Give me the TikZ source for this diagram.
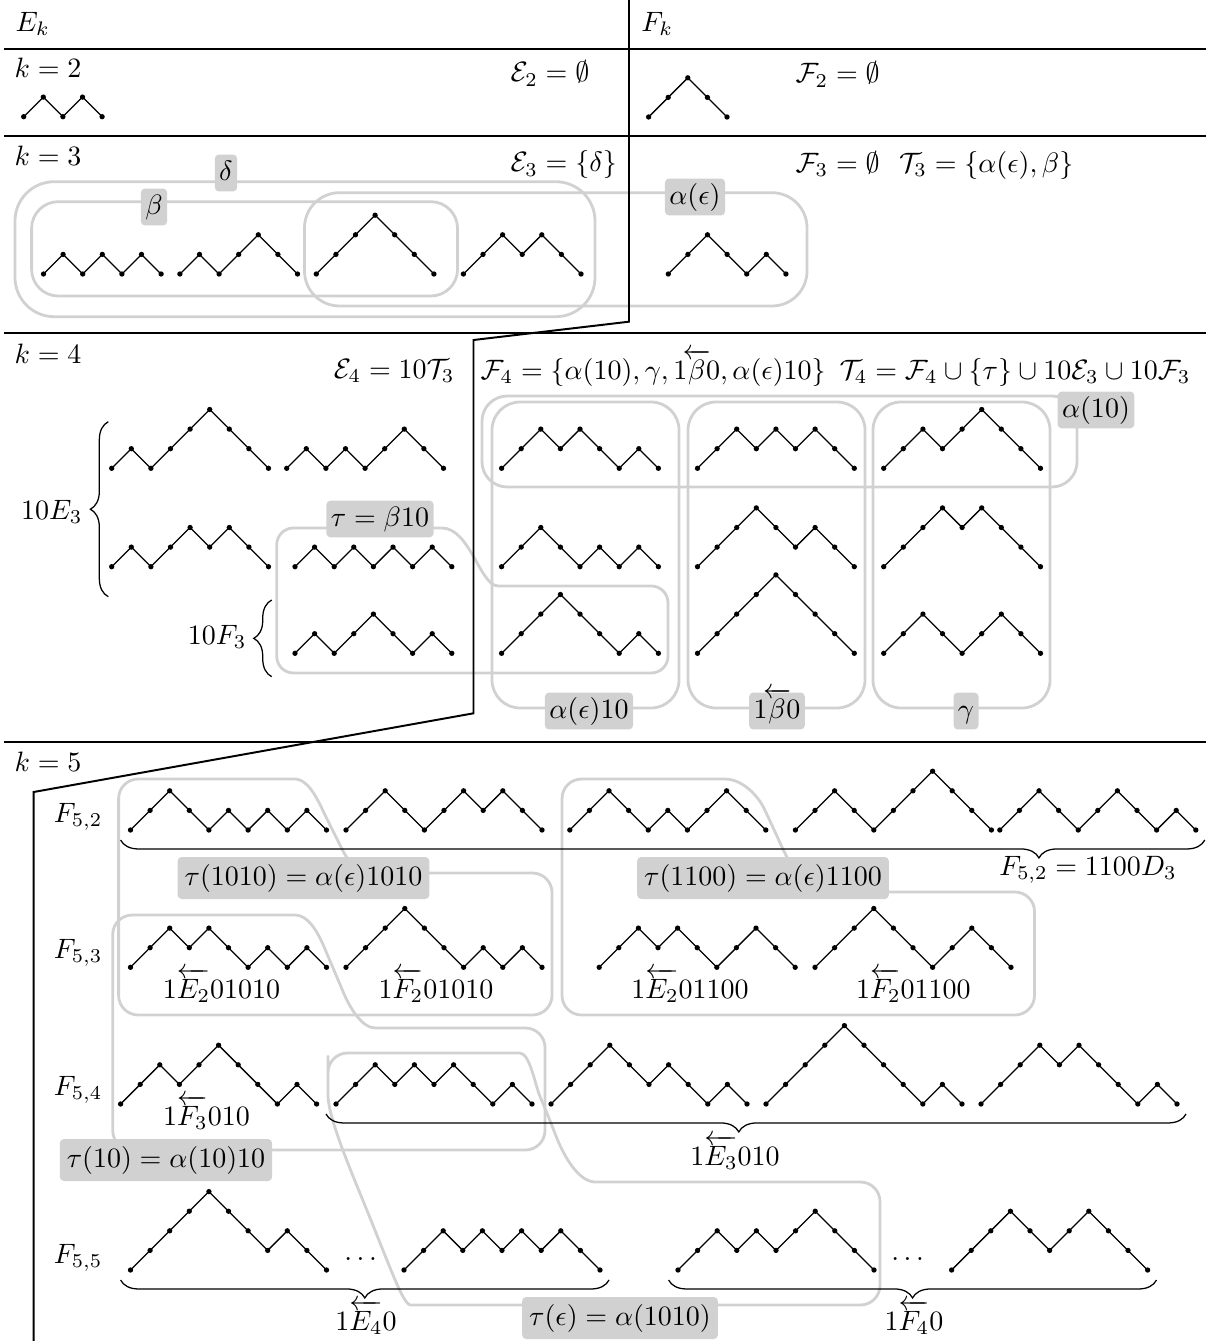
\documentclass[tikz,border=0pt]{standalone}
\usepackage{amsmath}
\usetikzlibrary{decorations.pathreplacing}

\newcommand{\dyckstep}{19.6}
\newcommand{\dyckdot}{0.95pt}
% a Dyck path from its left end, 1 = up, 0 = down
\newcommand{\dyck}[3]{%
	\draw[dyckline] (#1,#2) \foreach \s in {#3} {-- ++(\dyckstep,{\dyckstep*(1-2*\s)})};
	\fill (#1,#2) circle[radius=\dyckdot] \foreach \s in {#3} {++(\dyckstep,{\dyckstep*(1-2*\s)}) circle[radius=\dyckdot]};
}
\newcommand{\revbeta}{\mkern-3mu\overleftarrow{\beta}\mkern-3mu}

\tikzset{
	dyckline/.style={line width=0.45pt},
	rule/.style={line width=0.7pt},
	txt/.style={inner sep=0pt},
	hull/.style={draw=black!18, line width=1pt},
	lbl/.style={fill=black!18, rounded corners=1.5pt, inner sep=1.6pt, text height=0.75em, text depth=0.25em},
	lblb/.style={lbl, inner sep=2.5pt},
	brc/.style={decorate, decoration={brace, amplitude=6.4pt}, line width=0.45pt},
}

\begin{document}
\begin{tikzpicture}[x=0.357pt, y=-0.357pt]
	\useasboundingbox (0,0) rectangle (1228,1341);

	% hulls
	\draw[hull, rounded corners=14pt] (15,181.7) rectangle (595,316.7);
	\draw[hull, rounded corners=9.5pt] (31.6,201.7) rectangle (457.5,296);
	\draw[hull, rounded corners=12.5pt] (304.5,192.7) rectangle (807,306);

	\draw[hull, rounded corners=9pt] (482,396) rectangle (1077,487);
	\draw[hull, rounded corners=10pt] (492,402) rectangle (679,708);
	\draw[hull, rounded corners=10pt] (688,402) rectangle (865,708);
	\draw[hull, rounded corners=10pt] (873,402) rectangle (1050,708);
	\draw[hull, rounded corners=6pt] (276.7,673) -- (276.7,528) -- (425,528) .. controls (470,528) and (480,586) .. (515,586) -- (668,586) -- (668,673) -- cycle;

	\draw[hull, rounded corners=7pt] (118.6,1015) -- (118.6,779) -- (275,779) .. controls (310,779) and (320,805) .. (335,835) .. controls (350,865) and (365,873) .. (395,873) -- (552,873) -- (552,1015) -- cycle;
	\draw[hull, rounded corners=7pt] (562,1015) -- (562,779) -- (705,779) .. controls (745,779) and (760,800) .. (772,825) .. controls (790,865) and (805,892) .. (840,892) -- (1034.5,892) -- (1034.5,1015) -- cycle;
	\draw[hull, rounded corners=7pt] (112.7,1150) -- (112.7,915) -- (275,915) .. controls (312,915) and (322,942) .. (336,975) .. controls (350,1008) and (362,1028) .. (395,1028) -- (545,1028) -- (545,1150) -- cycle;
	\draw[hull, rounded corners=7pt] (400,1053) -- (500,1053) .. controls (530,1053) and (535,1085) .. (548,1115) .. controls (565,1160) and (580,1182) .. (615,1182) -- (880,1182) -- (880,1305) -- (430,1305) .. controls (405,1305) and (395,1280) .. (380,1243) .. controls (355,1180) and (328,1120) .. (328,1075) -- (328,1053) -- cycle;

	% table
	\draw[rule] (4,49.3) -- (1206,49.3);
	\draw[rule] (4,136) -- (1206,136);
	\draw[rule] (4,332.7) -- (1206,332.7);
	\draw[rule] (4,741.7) -- (1206,741.7);
	\draw[rule] (629,0) -- (629,321.7) -- (473.5,340) -- (473.5,713.3) -- (33.6,792) -- (33.6,1341);

	\node[txt, anchor=base west] (Ek) at (15,31.7) {$E_k$};
	\node[txt, anchor=base west] (Fk) at (640.7,31.7) {$F_k$};
	\node[txt, anchor=base west] (k2) at (14,78) {$k=2$};
	\node[txt, anchor=base west] (k3) at (14,165) {$k=3$};
	\node[txt, anchor=base west] (k4) at (14,363) {$k=4$};
	\node[txt, anchor=base west] (k5) at (14,771.7) {$k=5$};

	% k = 2
	\dyck{23.7}{116.7}{1,0,1,0}
	\dyck{648.6}{117}{1,1,0,0}
	\node[txt, anchor=base west] (E2) at (510,82) {$\mathcal{E}_2=\emptyset$};
	\node[txt, anchor=base west] (F2) at (795,83) {$\mathcal{F}_2=\emptyset$};

	% k = 3
	\dyck{43.5}{274}{1,0,1,0,1,0}
	\dyck{179.9}{274}{1,0,1,1,0,0}
	\dyck{316.3}{274}{1,1,1,0,0,0}
	\dyck{463.4}{274}{1,1,0,1,0,0}
	\dyck{668.3}{274}{1,1,0,0,1,0}
	\node[txt, anchor=base west] (E3) at (510,172) {$\mathcal{E}_3=\{\delta\}$};
	\node[txt, anchor=base west] (F3) at (795,172.7) {$\mathcal{F}_3=\emptyset\hspace{0.7em}\mathcal{T}_3=\{\alpha(\epsilon),\beta\}$};
	\node[lbl] (delta) at (226,173) {$\delta$};
	\node[lbl] (beta) at (154,207) {$\beta$};
	\node[lbl] (aeps) at (695,197) {$\alpha(\epsilon)$};

	% k = 4
	\dyck{111.7}{468.3}{1,0,1,1,1,0,0,0}
	\dyck{286.7}{468.3}{1,0,1,0,1,1,0,0}
	\dyck{111.7}{566.7}{1,0,1,1,0,1,0,0}
	\dyck{295}{566.7}{1,0,1,0,1,0,1,0}
	\dyck{295}{653.3}{1,0,1,1,0,0,1,0}

	\dyck{501.6}{468.3}{1,1,0,1,0,0,1,0}
	\dyck{501.6}{566.7}{1,1,0,0,1,0,1,0}
	\dyck{501.6}{653.3}{1,1,1,0,0,0,1,0}
	\dyck{697.5}{468.3}{1,1,0,1,0,1,0,0}
	\dyck{697.5}{566.7}{1,1,1,0,0,1,0,0}
	\dyck{697.5}{653.3}{1,1,1,1,0,0,0,0}
	\dyck{883.7}{468.3}{1,1,0,1,1,0,0,0}
	\dyck{883.7}{566.7}{1,1,1,0,1,0,0,0}
	\dyck{883.7}{653.3}{1,1,0,0,1,1,0,0}

	\node[txt, anchor=base east] (E4) at (455,378) {$\mathcal{E}_4=10\mathcal{T}_3$};
	\node[txt, anchor=base west] (F4) at (480,379) {$\mathcal{F}_4=\{\alpha(10),\gamma,1\revbeta0,\alpha(\epsilon)10\}\hspace{0.5em}\mathcal{T}_4=\mathcal{F}_4\cup\{\tau\}\cup10\mathcal{E}_3\cup10\mathcal{F}_3$};

	\draw[brc] (108.3,596.7) -- (108.3,421.7);
	\node[txt, anchor=east] (tE3) at (83,512) {$10E_3$};
	\draw[brc] (271.7,676.7) -- (271.7,600);
	\node[txt, anchor=east] (tF3) at (247,637) {$10F_3$};

	\node[lbl] (tau) at (380,519) {$\tau=\beta10$};
	\node[lbl] (a10) at (1096,410) {$\alpha(10)$};
	\node[lbl] (ae10) at (589,711) {$\alpha(\epsilon)10$};
	\node[lbl] (bb0) at (777,711) {$1\revbeta0$};
	\node[lbl] (gam) at (966,711) {$\gamma$};

	% k = 5
	\node[txt, anchor=base west] (r2) at (53.4,822) {$F_{5,2}$};
	\node[txt, anchor=base west] (r3) at (53.4,958) {$F_{5,3}$};
	\node[txt, anchor=base west] (r4) at (53.4,1095) {$F_{5,4}$};
	\node[txt, anchor=base west] (r5) at (53.4,1263) {$F_{5,5}$};

	\dyck{130.5}{830}{1,1,0,0,1,0,1,0,1,0}
	\dyck{346}{830}{1,1,0,0,1,1,0,1,0,0}
	\dyck{569.8}{830}{1,1,0,0,1,0,1,1,0,0}
	\dyck{795.4}{830}{1,1,0,0,1,1,1,0,0,0}
	\dyck{999.8}{830}{1,1,0,0,1,1,0,0,1,0}
	\draw[brc, decoration={mirror, aspect=0.847}] (120.6,840) -- (1204.8,840);
	\node[txt] (f52) at (1088,870) {$F_{5,2}=1100D_3$};

	\dyck{130.5}{967.3}{1,1,0,1,0,0,1,0,1,0}
	\dyck{346}{967.3}{1,1,1,0,0,0,1,0,1,0}
	\dyck{599.2}{967.3}{1,1,0,1,0,0,1,1,0,0}
	\dyck{815}{967.3}{1,1,1,0,0,0,1,1,0,0}
	\node[txt, anchor=base] (le1) at (221.5,998) {$1\overleftarrow{E_2}01010$};
	\node[txt, anchor=base] (lf1) at (436,998) {$1\overleftarrow{F_2}01010$};
	\node[txt, anchor=base] (le2) at (690,998) {$1\overleftarrow{E_2}01100$};
	\node[txt, anchor=base] (lf2) at (913.4,998) {$1\overleftarrow{F_2}01100$};

	\dyck{120.6}{1104}{1,1,0,1,1,0,0,0,1,0}
	\dyck{336}{1104}{1,1,0,1,0,1,0,0,1,0}
	\dyck{551}{1104}{1,1,1,0,0,1,0,0,1,0}
	\dyck{766}{1104}{1,1,1,1,0,0,0,0,1,0}
	\dyck{981}{1104}{1,1,1,0,1,0,0,0,1,0}
	\node[txt, anchor=base] (lf3) at (206.5,1125) {$1\overleftarrow{F_3}010$};
	\draw[brc, decoration={mirror, aspect=0.48}] (326,1114) -- (1186,1114);
	\node[txt, anchor=base] (le3) at (735,1165) {$1\overleftarrow{E_3}010$};

	\dyck{130.5}{1270}{1,1,1,1,0,0,0,1,0,0}
	\dyck{404}{1270}{1,1,0,1,0,1,0,1,0,0}
	\dyck{678}{1270}{1,1,0,1,0,1,1,0,0,0}
	\dyck{951.6}{1270}{1,1,1,0,0,1,1,0,0,0}
	\node[txt, anchor=base] (dots1) at (363,1260) {$\dots$};
	\node[txt, anchor=base] (dots2) at (910,1260) {$\dots$};
	\draw[brc, decoration={mirror}] (120.6,1280) -- (609,1280);
	\node[txt, anchor=base] (le4) at (366,1330) {$1\overleftarrow{E_4}0$};
	\draw[brc, decoration={mirror}] (668.6,1280) -- (1156.5,1280);
	\node[txt, anchor=base] (lf4) at (914,1330) {$1\overleftarrow{F_4}0$};

	\node[lblb] (t1010) at (303.5,878) {$\tau(1010)=\alpha(\epsilon)1010$};
	\node[lblb] (t1100) at (763,878) {$\tau(1100)=\alpha(\epsilon)1100$};
	\node[lblb] (t10) at (166,1160) {$\tau(10)=\alpha(10)10$};
	\node[lblb] (teps) at (620,1318) {$\tau(\epsilon)=\alpha(1010)$};
\end{tikzpicture}
\end{document}
